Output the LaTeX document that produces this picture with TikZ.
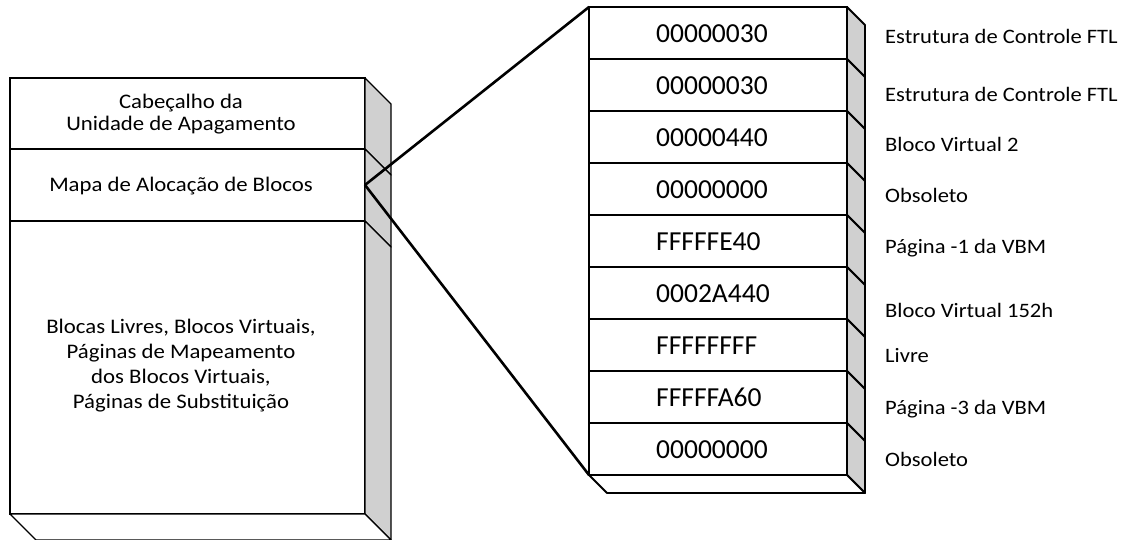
\documentclass[tikz,border=0pt]{standalone}
\usepackage{fontspec}
\setmainfont{Carlito}
\newfontfamily\notefont[FakeStretch=1.1]{Carlito}
\usetikzlibrary{calc}
\definecolor{facegray}{HTML}{D0D0D0}
\begin{document}
\begin{tikzpicture}[x=1pt,y=-1pt,
  seg/.style={draw, fill=white, line width=1.4pt, rectangle, inner sep=0pt, outer sep=0pt, minimum width=355pt},
  side/.style={draw, fill=facegray, line width=1.4pt, line join=round},
  bottomface/.style={draw, fill=white, line width=1.4pt, line join=round},
  row/.style={draw, fill=white, line width=1.8pt, rectangle, inner sep=0pt, outer sep=0pt, minimum width=258pt, minimum height=52pt},
  rowside/.style={draw, fill=facegray, line width=1.8pt, line join=round},
  rowbottom/.style={draw, fill=white, line width=1.8pt, line join=round},
  segtext/.style={font=\notefont\fontsize{20.7}{25}\selectfont, align=center, inner sep=0pt},
  hexval/.style={font=\fontsize{27.5}{30}\selectfont, inner sep=0pt, anchor=west},
  note/.style={font=\notefont\fontsize{20.5}{24}\selectfont, inner sep=0pt, anchor=base west},
  link/.style={draw, line width=2.6pt, line join=round, line cap=round}]
\useasboundingbox (0,0) rectangle (1129,540);

% erase unit: three stacked segments
\node[seg, minimum height=71pt]  (hdr)  at (187.5,113.5) {};
\node[seg, minimum height=72pt]  (map)  at (187.5,185) {};
\node[seg, minimum height=293pt] (data) at (187.5,367.5) {};
\foreach \n in {hdr,map,data}
  \path[side] (\n.north east) -- ++(26,26) -- ($(\n.south east)+(26,26)$) -- (\n.south east) -- cycle;
\path[bottomface] (data.south west) -- ++(26,26) -- ($(data.south east)+(26,26)$) -- (data.south east) -- cycle;

\node[segtext, font=\notefont\fontsize{20.7}{22.5}\selectfont] (hdrtxt) at (181,114) {Cabeçalho da\\Unidade de Apagamento};
\node[segtext, anchor=base] (maptxt) at (181,191.5) {Mapa de Alocação de Blocos};
\node[segtext] (datatxt) at (181,365.5) {Blocas Livres, Blocos Virtuais,\\Páginas de Mapeamento\\dos Blocos Virtuais,\\Páginas de Substituição};

% block allocation map entries
\foreach \i/\val/\lbl/\ly in {
  1/00000030/Estrutura de Controle FTL/44,
  2/00000030/Estrutura de Controle FTL/102,
  3/00000440/Bloco Virtual 2/152,
  4/00000000/Obsoleto/203,
  5/FFFFFE40/Página -1 da VBM/253,
  6/0002A440/Bloco Virtual 152h/317,
  7/FFFFFFFF/Livre/362,
  8/FFFFFA60/Página -3 da VBM/414,
  9/00000000/Obsoleto/466}
{
  \node[row] (r\i) at (718,{33+52*(\i-1)}) {};
  \path[rowside] (r\i.north east) -- ++(18,18) -- ($(r\i.south east)+(18,18)$) -- (r\i.south east) -- cycle;
  \node[hexval] (v\i) at ($(r\i.west)+(67,0.5)$) {\val};
  \node[note] (l\i) at (885,\ly) {\lbl};
}
\path[rowbottom] (r9.south west) -- ++(18,18) -- ($(r9.south east)+(18,18)$) -- (r9.south east) -- cycle;

% expansion lines from the map segment to the entry list
\path[link] (r1.north west) -- (map.east) -- (r9.south west);
\end{tikzpicture}
\end{document}
